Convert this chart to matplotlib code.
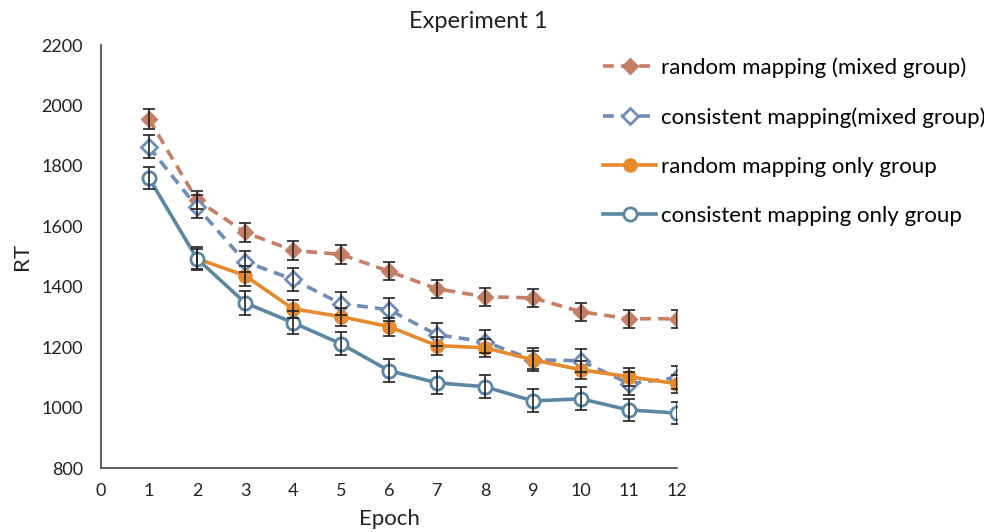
import matplotlib.pyplot as plt
import numpy as np

plt.rcParams['font.family'] = ['Lato', 'DejaVu Sans']

# Data
epochs = np.arange(1, 13)
rand_mixed = [1955, 1687, 1580, 1520, 1507, 1451, 1393, 1367, 1363, 1317, 1294, 1294]
cons_mixed = [1863, 1664, 1483, 1424, 1344, 1324, 1241, 1218, 1158, 1155, 1079, 1099]
rand_only_epochs = np.arange(2, 13)
rand_only = [1493, 1437, 1327, 1301, 1268, 1205, 1198, 1158, 1125, 1102, 1079]
cons_only = [1760, 1493, 1347, 1281, 1211, 1122, 1082, 1069, 1022, 1029, 992, 982]

err_rand_mixed = [33, 30, 32, 32, 32, 30, 30, 30, 30, 30, 30, 30]
err_cons_mixed = [38, 38, 35, 38, 38, 38, 38, 38, 38, 38, 38, 38]
err_rand_only = [33, 33, 30, 30, 30, 30, 30, 30, 30, 30, 30]
err_cons_only = [36, 38, 40, 38, 38, 38, 38, 38, 38, 38, 38, 38]

labels = ['random mapping (mixed group)', 'consistent mapping(mixed group)',
          'random mapping only group', 'consistent mapping only group']

c_red = '#C47F65'
c_blue = '#6F8DB5'
c_orange = '#E68A2E'
c_teal = '#5B87A3'
c_text = '#222222'

fig = plt.figure(figsize=(9.84, 5.32), dpi=100)
ax = fig.add_axes([0.1026, 0.1203, 0.5854, 0.7951])

lw = 2.6
ax.plot(epochs, rand_mixed, '--', color=c_red, lw=lw, marker='D', ms=8.5,
        mfc=c_red, mec=c_red, dashes=(3, 2), label=labels[0])
ax.plot(epochs, cons_mixed, '--', color=c_blue, lw=lw, marker='D', ms=8.5,
        mfc='white', mec=c_blue, mew=2, dashes=(3, 2), label=labels[1])
ax.plot(rand_only_epochs, rand_only, '-', color=c_orange, lw=lw, marker='o', ms=9.5,
        mfc=c_orange, mec=c_orange, label=labels[2])
ax.plot(epochs, cons_only, '-', color=c_teal, lw=lw, marker='o', ms=9.5,
        mfc='white', mec=c_teal, mew=2, label=labels[3])

# error bars
for x, y, e in [(epochs, rand_mixed, err_rand_mixed), (epochs, cons_mixed, err_cons_mixed),
                (rand_only_epochs, rand_only, err_rand_only), (epochs, cons_only, err_cons_only)]:
    ax.errorbar(x, y, yerr=e, fmt='none', ecolor=c_text, elinewidth=1.2,
                capsize=4, capthick=1.2, zorder=5)

ax.set_xlim(0, 12)
ax.set_ylim(800, 2200)
ax.set_xticks(range(0, 13))
ax.set_yticks(range(800, 2201, 200))
ax.tick_params(length=0, labelsize=13, colors=c_text)
ax.tick_params(axis='y', pad=13)
ax.tick_params(axis='x', pad=11)
for s in ['top', 'right']:
    ax.spines[s].set_visible(False)
for s in ['left', 'bottom']:
    ax.spines[s].set_color('#444444')
    ax.spines[s].set_linewidth(1.2)

fig.text(478 / 984, 1 - 22 / 532, 'Experiment 1', fontsize=17, color=c_text,
         ha='center', va='center')
ax.set_xlabel('Epoch', fontsize=16, color=c_text, labelpad=7)
ax.set_ylabel('RT', fontsize=16, color=c_text, labelpad=7)

fig.legend(loc='upper left', bbox_to_anchor=(603 / 984, 1 - 57 / 532), frameon=False,
           fontsize=16, handlelength=2.4, handletextpad=0.2, labelspacing=1.32,
           borderaxespad=0, borderpad=0)

fig.savefig('out.png', dpi=100)
